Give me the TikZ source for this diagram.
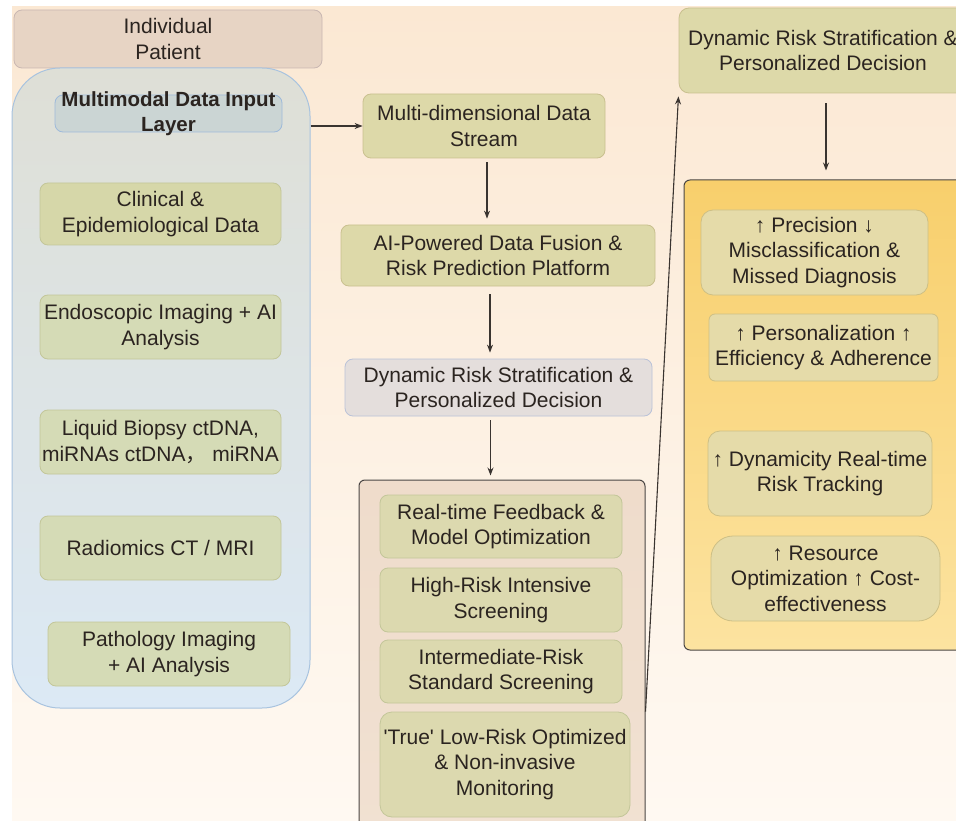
\documentclass[tikz,border=0pt]{standalone}
\usepackage{fontspec}
\setmainfont{Liberation Sans}[Ligatures=NoCommon]
\newfontfamily\cjk{Noto Sans CJK SC}
\usetikzlibrary{arrows.meta}
\definecolor{bgtop}{HTML}{FBE8D3}
\definecolor{bgbot}{HTML}{FFF9F2}
\definecolor{txtc}{HTML}{2B2420}
\definecolor{arrc}{HTML}{3A3430}
\definecolor{patfill}{HTML}{E7D4C4}
\definecolor{patdraw}{HTML}{C9B7B2}
\definecolor{intop}{HTML}{DEDFD6}
\definecolor{inbot}{HTML}{DCE9F5}
\definecolor{indraw}{HTML}{A8C3DF}
\definecolor{hdrfill}{HTML}{CBD5D4}
\definecolor{hdrdraw}{HTML}{9EBADA}
\definecolor{grfill}{HTML}{D6D7A9}
\definecolor{grfill2}{HTML}{D5DBB6}
\definecolor{grdraw}{HTML}{C3C699}
\definecolor{olfill}{HTML}{DDD9A9}
\definecolor{oldraw}{HTML}{C9C08F}
\definecolor{dynfill}{HTML}{E4DEDC}
\definecolor{dyndraw}{HTML}{BAC2D8}
\definecolor{sttop}{HTML}{EFDCCB}
\definecolor{stbot}{HTML}{F1E1D2}
\definecolor{stin}{HTML}{DCD9AF}
\definecolor{ctdraw}{HTML}{4A4644}
\definecolor{yetop}{HTML}{F8CF6C}
\definecolor{yebot}{HTML}{FCE3A0}
\definecolor{yein}{HTML}{E5DBA9}
\definecolor{yeindraw}{HTML}{CDBF85}
\begin{document}
\begin{tikzpicture}[x=1pt,y=-1pt,
  txt/.style={align=center, text=txtc, font=\fontsize{21}{25.5}\selectfont, inner sep=0pt},
  box/.style={draw, rounded corners=8pt, line width=0.8pt, inner sep=0pt},
  greenbox/.style={box, fill=grfill2, draw=grdraw},
  olivebox/.style={box, fill=olfill, draw=oldraw},
  stbox/.style={box, fill=stin, draw=grdraw},
  yebox/.style={box, fill=yein, draw=yeindraw, rounded corners=12pt},
  container/.style={draw=ctdraw, line width=1pt, rounded corners=6pt, inner sep=0pt},
  arr/.style={-{Stealth[length=8pt,width=6pt]}, line width=1.1pt, draw=arrc}]
\useasboundingbox (0,0) rectangle (956,821);
\clip (0,0) rectangle (956,821);
\fill[white] (0,0) rectangle (956,821);
\shade[top color=bgtop,bottom color=bgbot] (12,7) rectangle (956,821);

% ---- left column
\node[box, fill=patfill, draw=patdraw, minimum width=308pt, minimum height=58pt] (patient) at (168,39) {};
\node[txt] (patient-t) at (patient.center) {Individual\\Patient};

\node[draw=indraw, line width=1pt, top color=intop, bottom color=inbot, rounded corners=48pt,
      minimum width=298pt, minimum height=640pt, inner sep=0pt] (input) at (161,388) {};
\node[box, fill=hdrfill, draw=hdrdraw, minimum width=227pt, minimum height=37pt] (hdr) at (168.5,113.5) {};
\node[txt, font=\fontsize{20.5}{25.5}\selectfont\bfseries] (hdr-t) at (168.5,113.5) {Multimodal Data Input\\Layer};

\node[box, fill=grfill, draw=grdraw, minimum width=241pt, minimum height=62pt] (clin) at (160.5,214) {};
\node[txt] (clin-t) at (clin.center) {Clinical \&\\Epidemiological Data};
\node[greenbox, minimum width=241pt, minimum height=64pt] (endo) at (160.5,327) {};
\node[txt] (endo-t) at (endo.center) {Endoscopic Imaging + AI\\Analysis};
\node[greenbox, minimum width=241pt, minimum height=64pt] (liq) at (160.5,442) {};
\node[txt] (liq-t) at (liq.center) {Liquid Biopsy ctDNA,\\miRNAs ctDNA{\cjk，} miRNA};
\node[greenbox, minimum width=241pt, minimum height=64pt] (rad) at (160.5,548) {};
\node[txt] (rad-t) at (rad.center) {Radiomics CT / MRI};
\node[greenbox, minimum width=242pt, minimum height=64pt] (path) at (169,654) {};
\node[txt] (path-t) at (path.center) {Pathology Imaging\\+ AI Analysis};

% ---- middle column
\node[olivebox, minimum width=242pt, minimum height=64pt] (stream) at (484,126) {};
\node[txt] (stream-t) at (stream.center) {Multi-dimensional Data\\Stream};
\node[olivebox, minimum width=314pt, minimum height=61pt] (aipow) at (498,255.5) {};
\node[txt] (aipow-t) at (aipow.center) {AI-Powered Data Fusion \&\\Risk Prediction Platform};
\node[box, fill=dynfill, draw=dyndraw, minimum width=307pt, minimum height=57pt] (dyn1) at (498.5,387.5) {};
\node[txt] (dyn1-t) at (dyn1.center) {Dynamic Risk Stratification \&\\Personalized Decision};

\node[container, top color=sttop, bottom color=stbot, minimum width=286pt, minimum height=360pt] (strat) at (502,660) {};
\node[stbox, minimum width=242pt, minimum height=63pt] (rt) at (501,526.5) {};
\node[txt] (rt-t) at (rt.center) {Real-time Feedback \&\\Model Optimization};
\node[stbox, minimum width=242pt, minimum height=64pt] (hr) at (501,600) {};
\node[txt] (hr-t) at (hr.center) {High-Risk Intensive\\Screening};
\node[stbox, minimum width=242pt, minimum height=63pt] (ir) at (501,671.5) {};
\node[txt] (ir-t) at (ir.center) {Intermediate-Risk\\Standard Screening};
\node[stbox, rounded corners=12pt, minimum width=250pt, minimum height=105pt] (lr) at (505,764.5) {};
\node[txt] (lr-t) at (lr.center) {\textquotesingle True\textquotesingle{} Low-Risk Optimized\\\& Non-invasive\\Monitoring};

% ---- right column
\node[olivebox, rounded corners=10pt, minimum width=296pt, minimum height=85pt] (dyn2) at (827,50.5) {};
\node[txt] (dyn2-t) at (823,50.5) {Dynamic Risk Stratification \&\\Personalized Decision};

\node[container, draw=ctdraw, top color=yetop, bottom color=yebot, minimum width=291pt, minimum height=470pt] (gain) at (829.5,415) {};
\node[yebox, minimum width=227pt, minimum height=85pt] (prec) at (814.5,252.5) {};
\node[txt] (prec-t) at (prec.center) {↑ Precision ↓\\Misclassification \&\\Missed Diagnosis};
\node[yebox, rounded corners=6pt, minimum width=229pt, minimum height=67pt] (pers) at (823.5,347.5) {};
\node[txt] (pers-t) at (pers.center) {↑ Personalization ↑\\Efficiency \& Adherence};
\node[yebox, minimum width=224pt, minimum height=85pt] (dynm) at (820,473.5) {};
\node[txt] (dynm-t) at (dynm.center) {↑ Dynamicity Real-time\\Risk Tracking};
\node[yebox, rounded corners=22pt, minimum width=229pt, minimum height=85pt] (res) at (825.5,578.5) {};
\node[txt] (res-t) at (res.center) {↑ Resource\\Optimization ↑ Cost-\\effectiveness};

% ---- connectors
\draw[arr] (stream.west -| input.east) -- (stream.west);
\draw[arr, shorten <=4pt, shorten >=6pt] ([xshift=3pt]stream.south) -- ([xshift=3pt]stream.south |- aipow.north);
\draw[arr, shorten <=8pt, shorten >=6pt] ([xshift=-8pt]aipow.south) -- ([xshift=-8pt]aipow.south |- dyn1.north);
\draw[arr, shorten <=4pt, shorten >=4pt] ([xshift=-8pt]dyn1.south) -- ([xshift=-8pt]dyn1.south |- strat.north);
\draw[arr, shorten >=3pt] (strat.east |- lr.north) -- (dyn2.south west);
\draw[arr, shorten <=10pt, shorten >=9pt] ([xshift=-1pt]dyn2.south) -- ([xshift=-1pt]dyn2.south |- gain.north);
\end{tikzpicture}
\end{document}
